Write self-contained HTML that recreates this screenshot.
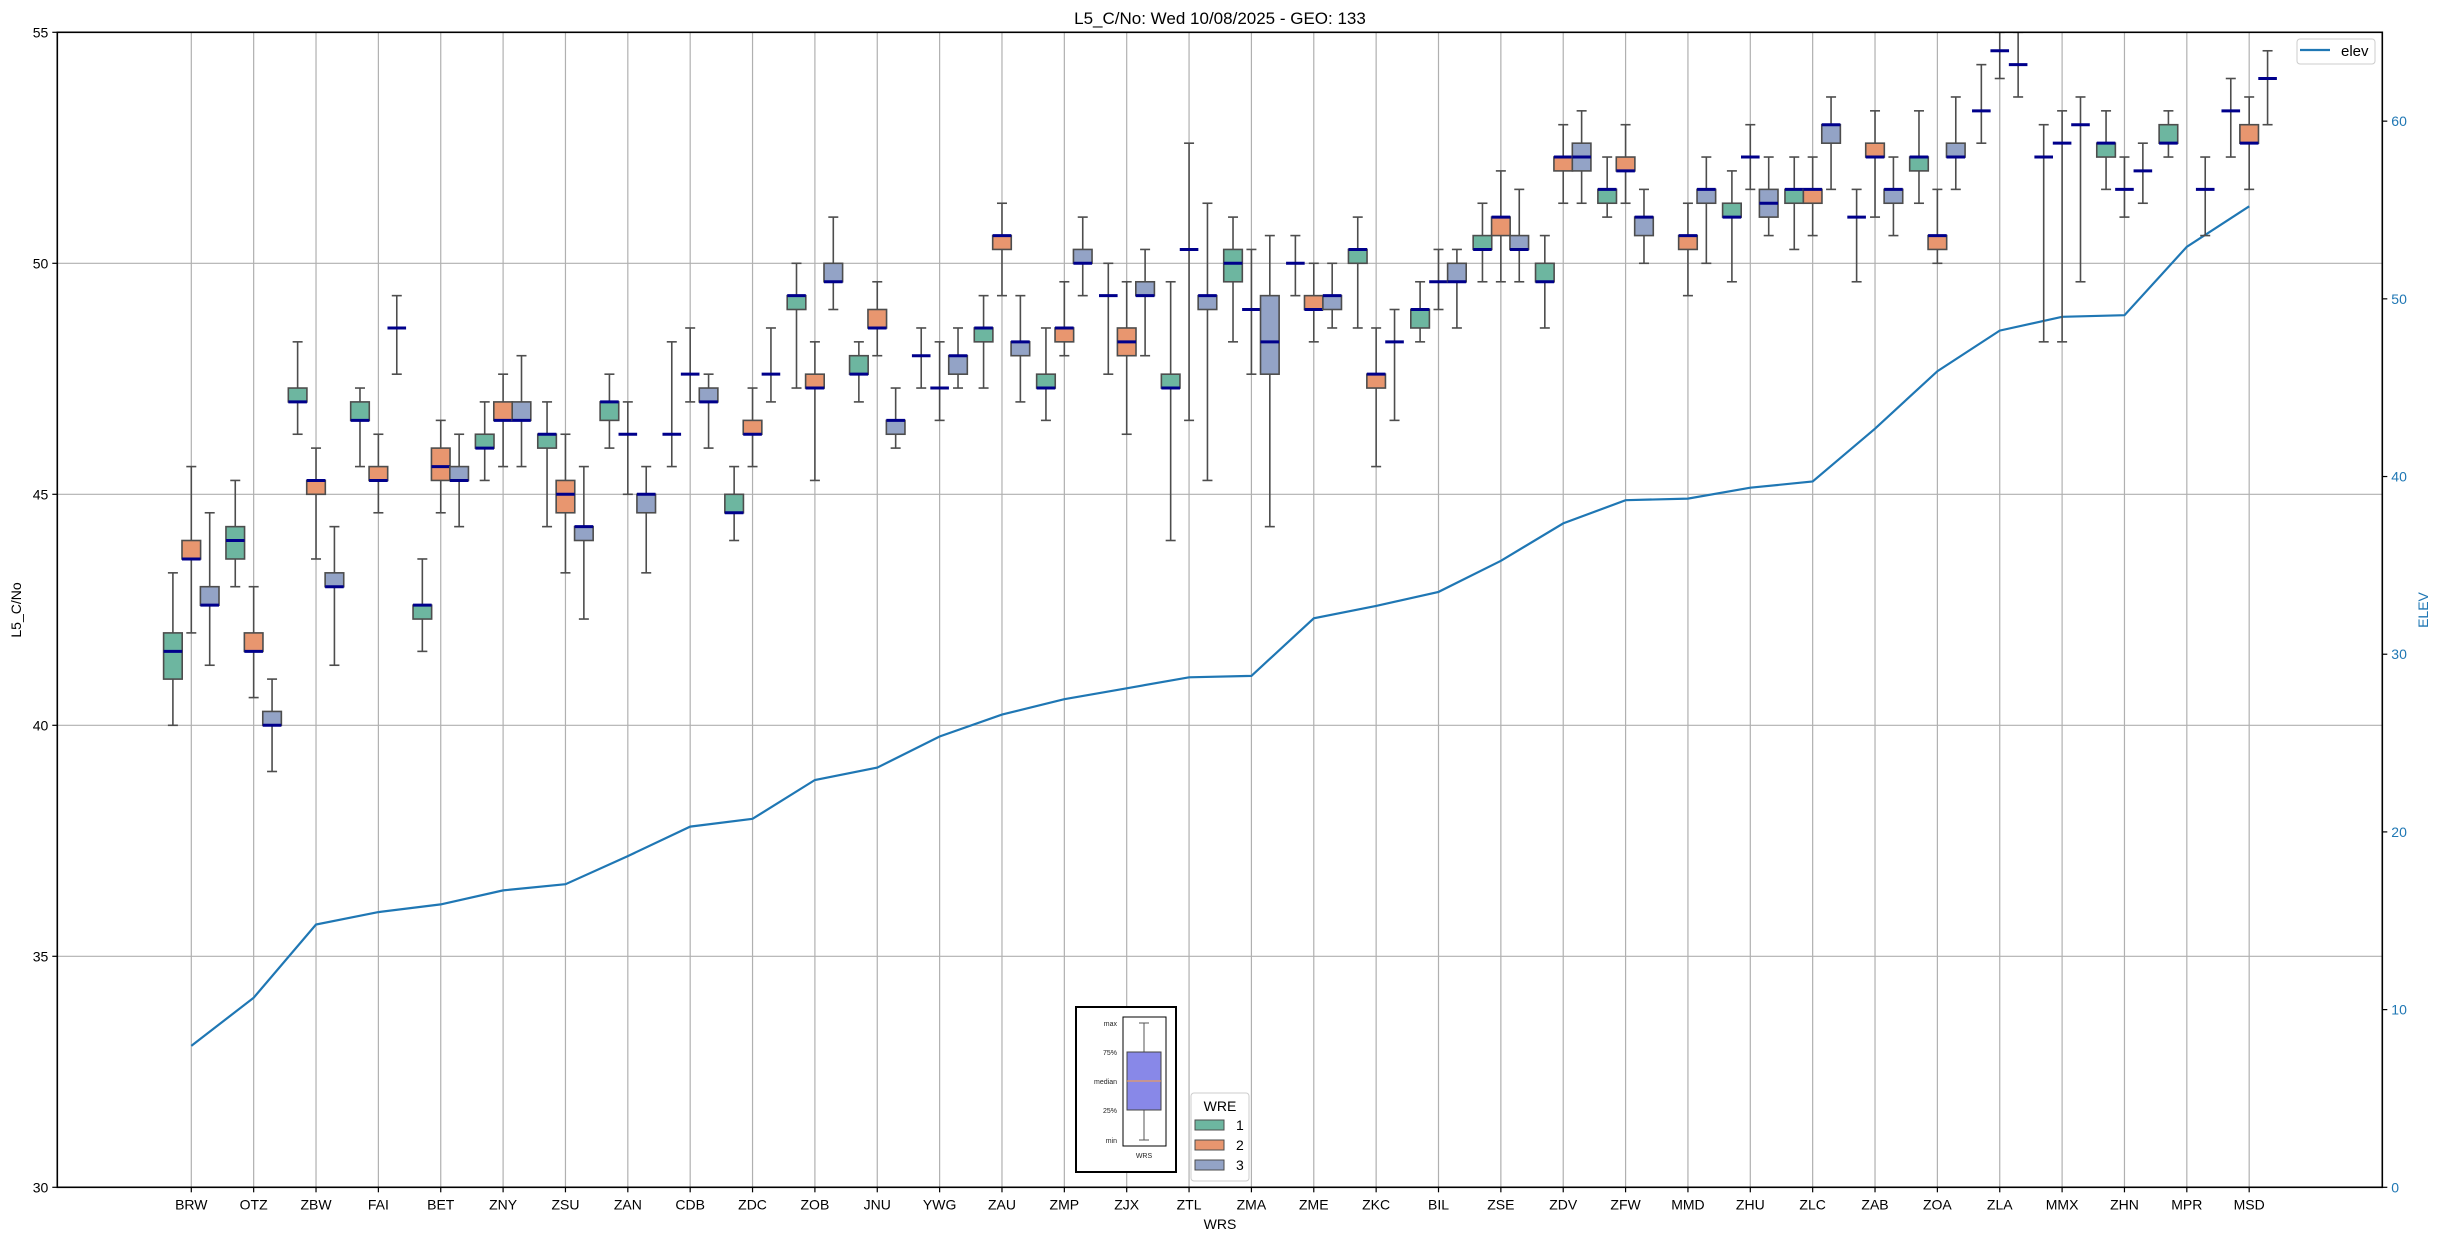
<!DOCTYPE html>
<html><head><meta charset="utf-8"><style>
html,body{margin:0;padding:0;background:#fff;}
svg{display:block;font-family:"Liberation Sans","DejaVu Sans",sans-serif;}
</style></head><body>
<svg id="chart" xmlns="http://www.w3.org/2000/svg" width="2438" height="1240" viewBox="0 0 2438 1240">
<rect x="0" y="0" width="2438" height="1240" fill="#fff"/>
<g id="grid"></g>
<g id="elevg"></g>
<g id="boxes"></g>
<g id="axes"></g>
<text x="1220" y="24" font-size="17" text-anchor="middle" fill="#000">L5_C/No: Wed 10/08/2025 - GEO: 133</text>
<text x="1220" y="1229" font-size="14" text-anchor="middle" fill="#000">WRS</text>
<text transform="translate(21,610) rotate(-90)" font-size="14" text-anchor="middle" fill="#000">L5_C/No</text>
<text transform="translate(2428,610) rotate(-90)" font-size="14" text-anchor="middle" fill="#1f77b4">ELEV</text>
<g>
<rect x="2297" y="39" width="78" height="25" rx="3" fill="#fff" stroke="#ccc" stroke-width="1"/>
<line x1="2300" y1="50" x2="2330" y2="50" stroke="#1f77b4" stroke-width="2.2"/>
<text x="2341" y="56" font-size="15" fill="#000">elev</text>
</g>
<g>
<rect x="1076" y="1007" width="100" height="165" fill="#fff" stroke="#000" stroke-width="2"/>
<rect x="1123" y="1017" width="43" height="129" fill="#fff" stroke="#000" stroke-width="1"/>
<line x1="1144" y1="1023" x2="1144" y2="1052" stroke="#555" stroke-width="1"/>
<line x1="1139" y1="1023" x2="1149" y2="1023" stroke="#555" stroke-width="1"/>
<line x1="1144" y1="1110" x2="1144" y2="1140" stroke="#555" stroke-width="1"/>
<line x1="1139" y1="1140" x2="1149" y2="1140" stroke="#555" stroke-width="1"/>
<rect x="1127" y="1052" width="34" height="58" fill="#8888e8" stroke="#444" stroke-width="1"/>
<line x1="1127" y1="1081" x2="1161" y2="1081" stroke="#ff9f3f" stroke-width="1"/>
<g font-size="7" text-anchor="end" fill="#222">
<text x="1117" y="1026">max</text>
<text x="1117" y="1055">75%</text>
<text x="1117" y="1084">median</text>
<text x="1117" y="1113">25%</text>
<text x="1117" y="1143">min</text>
</g>
<text x="1144" y="1158" font-size="7" text-anchor="middle" fill="#222">WRS</text>
</g>
<g>
<rect x="1191" y="1093" width="58" height="88" rx="3" fill="#fff" stroke="#ccc" stroke-width="1"/>
<text x="1220" y="1111" font-size="14" text-anchor="middle" fill="#000">WRE</text>
<rect x="1195" y="1120" width="29" height="10" fill="#6db6a0" stroke="#4d4d4d"/>
<text x="1236" y="1130" font-size="14" fill="#000">1</text>
<rect x="1195" y="1140" width="29" height="10" fill="#e8966f" stroke="#4d4d4d"/>
<text x="1236" y="1150" font-size="14" fill="#000">2</text>
<rect x="1195" y="1160" width="29" height="10" fill="#93a3c6" stroke="#4d4d4d"/>
<text x="1236" y="1170" font-size="14" fill="#000">3</text>
</g>
</svg>
<script>
const categories = ["BRW","OTZ","ZBW","FAI","BET","ZNY","ZSU","ZAN","CDB","ZDC","ZOB","JNU","YWG","ZAU","ZMP","ZJX","ZTL","ZMA","ZME","ZKC","BIL","ZSE","ZDV","ZFW","MMD","ZHU","ZLC","ZAB","ZOA","ZLA","MMX","ZHN","MPR","MSD"];
// [min, q1, median, q3, max]
const wre1 = [[40.0,41.0,41.6,42.0,43.3],[43.0,43.6,44.0,44.3,45.3],[46.3,47.0,47.0,47.3,48.3],[45.6,46.6,46.6,47.0,47.3],[41.6,42.3,42.6,42.6,43.6],[45.3,46.0,46.0,46.3,47.0],[44.3,46.0,46.3,46.3,47.0],[46.0,46.6,47.0,47.0,47.6],[45.6,46.3,46.3,46.3,48.3],[44.0,44.6,44.6,45.0,45.6],[47.3,49.0,49.3,49.3,50.0],[47.0,47.6,47.6,48.0,48.3],[47.3,48.0,48.0,48.0,48.6],[47.3,48.3,48.6,48.6,49.3],[46.6,47.3,47.3,47.6,48.6],[47.6,49.3,49.3,49.3,50.0],[44.0,47.3,47.3,47.6,49.6],[48.3,49.6,50.0,50.3,51.0],[49.3,50.0,50.0,50.0,50.6],[48.6,50.0,50.3,50.3,51.0],[48.3,48.6,49.0,49.0,49.6],[49.6,50.3,50.3,50.6,51.3],[48.6,49.6,49.6,50.0,50.6],[51.0,51.3,51.6,51.6,52.3],null,[49.6,51.0,51.0,51.3,52.0],[50.3,51.3,51.6,51.6,52.3],[49.6,51.0,51.0,51.0,51.6],[51.3,52.0,52.3,52.3,53.3],[52.6,53.3,53.3,53.3,54.3],[48.3,52.3,52.3,52.3,53.0],[51.6,52.3,52.6,52.6,53.3],[52.3,52.6,52.6,53.0,53.3],[52.3,53.3,53.3,53.3,54.0]];
const wre2 = [[42.0,43.6,43.6,44.0,45.6],[40.6,41.6,41.6,42.0,43.0],[43.6,45.0,45.3,45.3,46.0],[44.6,45.3,45.3,45.6,46.3],[44.6,45.3,45.6,46.0,46.6],[45.6,46.6,46.6,47.0,47.6],[43.3,44.6,45.0,45.3,46.3],[45.0,46.3,46.3,46.3,47.0],[47.0,47.6,47.6,47.6,48.6],[45.6,46.3,46.3,46.6,47.3],[45.3,47.3,47.3,47.6,48.3],[48.0,48.6,48.6,49.0,49.6],[46.6,47.3,47.3,47.3,48.3],[49.3,50.3,50.6,50.6,51.3],[48.0,48.3,48.6,48.6,49.6],[46.3,48.0,48.3,48.6,49.6],[46.6,50.3,50.3,50.3,52.6],[47.6,49.0,49.0,49.0,50.3],[48.3,49.0,49.0,49.3,50.0],[45.6,47.3,47.6,47.6,48.6],[49.0,49.6,49.6,49.6,50.3],[49.6,50.6,51.0,51.0,52.0],[51.3,52.0,52.3,52.3,53.0],[51.3,52.0,52.0,52.3,53.0],[49.3,50.3,50.6,50.6,51.3],[51.6,52.3,52.3,52.3,53.0],[50.6,51.3,51.6,51.6,52.3],[51.0,52.3,52.3,52.6,53.3],[50.0,50.3,50.6,50.6,51.6],[54.0,54.6,54.6,54.6,55.0],[48.3,52.6,52.6,52.6,53.3],[51.0,51.6,51.6,51.6,52.3],null,[51.6,52.6,52.6,53.0,53.6]];
const wre3 = [[41.3,42.6,42.6,43.0,44.6],[39.0,40.0,40.0,40.3,41.0],[41.3,43.0,43.0,43.3,44.3],[47.6,48.6,48.6,48.6,49.3],[44.3,45.3,45.3,45.6,46.3],[45.6,46.6,46.6,47.0,48.0],[42.3,44.0,44.3,44.3,45.6],[43.3,44.6,45.0,45.0,45.6],[46.0,47.0,47.0,47.3,47.6],[47.0,47.6,47.6,47.6,48.6],[49.0,49.6,49.6,50.0,51.0],[46.0,46.3,46.6,46.6,47.3],[47.3,47.6,48.0,48.0,48.6],[47.0,48.0,48.3,48.3,49.3],[49.3,50.0,50.0,50.3,51.0],[48.0,49.3,49.3,49.6,50.3],[45.3,49.0,49.3,49.3,51.3],[44.3,47.6,48.3,49.3,50.6],[48.6,49.0,49.3,49.3,50.0],[46.6,48.3,48.3,48.3,49.0],[48.6,49.6,49.6,50.0,50.3],[49.6,50.3,50.3,50.6,51.6],[51.3,52.0,52.3,52.6,53.3],[50.0,50.6,51.0,51.0,51.6],[50.0,51.3,51.6,51.6,52.3],[50.6,51.0,51.3,51.6,52.3],[51.6,52.6,53.0,53.0,53.6],[50.6,51.3,51.6,51.6,52.3],[51.6,52.3,52.3,52.6,53.6],[53.6,54.3,54.3,54.3,55.0],[49.6,53.0,53.0,53.0,53.6],[51.3,52.0,52.0,52.0,52.6],[50.6,51.6,51.6,51.6,52.3],[53.0,54.0,54.0,54.0,54.6]];
const elev = [7.96,10.67,14.79,15.49,15.92,16.71,17.06,18.64,20.30,20.74,22.92,23.62,25.37,26.60,27.47,28.08,28.70,28.78,32.02,32.72,33.51,35.26,37.36,38.67,38.76,39.37,39.72,42.69,45.93,48.21,48.99,49.08,52.93,55.21];
const yTicks = [30,35,40,45,50,55];
const elevTicks = [0,10,20,30,40,50,60];

const NS = "http://www.w3.org/2000/svg";
const L = 57.3, R = 2382.3, T = 32.3, B = 1187.3;
const yMin = 30, yMax = 55, eMin = 0, eMax = 65.0;
const x0 = 191.3, dx = 62.36, off = 18.4, bw = 18.6;
function xScale(i){ return x0 + i*dx; }
function yScale(v){ return B - (v - yMin)/(yMax - yMin)*(B - T); }
function eScale(v){ return B - (v - eMin)/(eMax - eMin)*(B - T); }
function mk(tag, attrs, parent){
  const el = document.createElementNS(NS, tag);
  for (const k in attrs) el.setAttribute(k, attrs[k]);
  parent.appendChild(el);
  return el;
}
const grid = document.getElementById('grid');
const axes = document.getElementById('axes');
const boxes = document.getElementById('boxes');
const elevg = document.getElementById('elevg');

yTicks.forEach(v => {
  const y = yScale(v);
  const g = mk('line', {x1:L, x2:R, y1:y, y2:y, stroke:'#b0b0b0', 'stroke-width':1.2}, grid);
  
  
  const t = mk('line', {x1:L-5, x2:L, y1:y, y2:y, stroke:'#000', 'stroke-width':1.2}, axes);
  
  
  const lb = mk('text', {x:L-9, y:y+5, 'font-size':14, 'text-anchor':'end', fill:'#000'}, axes);
  lb.textContent = v;
  
  
});
categories.forEach((c, i) => {
  const x = xScale(i);
  const g = mk('line', {x1:x, x2:x, y1:T, y2:B, stroke:'#b0b0b0', 'stroke-width':1.2}, grid);
  
  
  const t = mk('line', {x1:x, x2:x, y1:B, y2:B+5, stroke:'#000', 'stroke-width':1.2}, axes);
  
  
  const lb = mk('text', {x:x, y:B+22, 'font-size':14, 'text-anchor':'middle', fill:'#000'}, axes);
  lb.textContent = c;
  
  
});
elevTicks.forEach(v => {
  const y = eScale(v);
  const t = mk('line', {x1:R, x2:R+5, y1:y, y2:y, stroke:'#000', 'stroke-width':1.2}, axes);
  
  
  const lb = mk('text', {x:R+9, y:y+5, 'font-size':14, fill:'#1f77b4'}, axes);
  lb.textContent = v;
  
  
});
const frame = mk('rect', {x:L, y:T, width:R-L, height:B-T, fill:'none', stroke:'#000', 'stroke-width':1.6}, axes);



const pts = elev.map((v, i) => xScale(i).toFixed(1) + ',' + eScale(v).toFixed(1)).join(' ');
const pl = mk('polyline', {points:pts, fill:'none', stroke:'#1f77b4', 'stroke-width':2.2}, elevg);



const groups = [wre1, wre2, wre3];
const fills = ['#6db6a0', '#e8966f', '#93a3c6'];
const clip = v => Math.max(yMin, Math.min(yMax, v));
groups.forEach((data, gi) => {
  data.forEach((d, i) => {
    if (!d) return;
    const cx = xScale(i) + (gi - 1)*off;
    const g = mk('g', {}, boxes);
    
    
    const yMinP = yScale(clip(d[0])), yQ1 = yScale(d[1]), yMed = yScale(d[2]), yQ3 = yScale(d[3]), yMaxP = yScale(clip(d[4]));
    const w1 = mk('line', {x1:cx, x2:cx, y1:yQ3, y2:yMaxP, stroke:'#4d4d4d', 'stroke-width':1.6}, g);
    
    
    const w2 = mk('line', {x1:cx, x2:cx, y1:yQ1, y2:yMinP, stroke:'#4d4d4d', 'stroke-width':1.6}, g);
    
    
    if (d[4] <= yMax) {
      const c1 = mk('line', {x1:cx-5, x2:cx+5, y1:yMaxP, y2:yMaxP, stroke:'#4d4d4d', 'stroke-width':1.6}, g);
      
      
    }
    const c2 = mk('line', {x1:cx-5, x2:cx+5, y1:yMinP, y2:yMinP, stroke:'#4d4d4d', 'stroke-width':1.6}, g);
    
    
    if (yQ1 - yQ3 > 0.5) {
      const r = mk('rect', {x:cx-bw/2, y:yQ3, width:bw, height:yQ1-yQ3, fill:fills[gi], stroke:'#4d4d4d', 'stroke-width':1.6}, g);
      
      
    }
    const m = mk('line', {x1:cx-bw/2, x2:cx+bw/2, y1:yMed, y2:yMed, stroke:'#00008b', 'stroke-width':3}, g);
    
    
  });
});
</script>
</body></html>
